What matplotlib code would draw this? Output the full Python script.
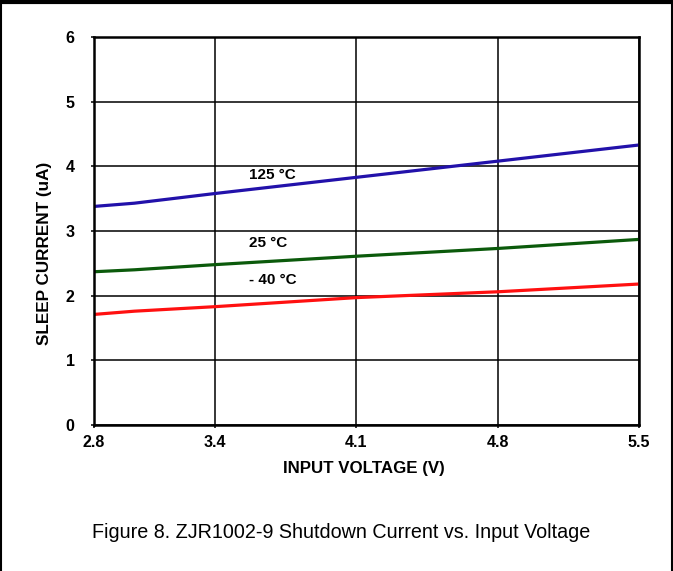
import matplotlib
matplotlib.use("Agg")
import matplotlib.pyplot as plt
from matplotlib.lines import Line2D

plt.rcParams['font.family'] = ['Liberation Sans Narrow', 'Liberation Sans', 'DejaVu Sans']

voltage = [2.8, 3.0, 3.4, 4.1, 4.8, 5.5]
i_125 = [3.38, 3.43, 3.58, 3.83, 4.08, 4.33]
i_25 = [2.37, 2.40, 2.48, 2.61, 2.73, 2.87]
i_m40 = [1.71, 1.76, 1.83, 1.97, 2.06, 2.18]
x_ticks = [2.8, 3.4, 4.1, 4.8, 5.5]
y_ticks = [0, 1, 2, 3, 4, 5, 6]
labels = ["125 °C", "25 °C", "- 40 °C"]
label_pos = [(3.57, 3.86), (3.57, 2.82), (3.57, 2.25)]

fig = plt.figure(figsize=(6.73, 5.71), dpi=100)
ax = fig.add_axes([94/673, 1-425/571, (639-94)/673, (425-37)/571])

ax.plot(voltage, i_125, color="#2211aa", lw=2.3, solid_capstyle='butt')
ax.plot(voltage, i_25, color="#0b5a0b", lw=2.3, solid_capstyle='butt')
ax.plot(voltage, i_m40, color="#ff1010", lw=2.3, solid_capstyle='butt')

for t, (x, y) in zip(labels, label_pos):
    ax.text(x, y, t, ha='left', va='center', fontsize=11, fontweight='bold')

ax.set_xlim(2.8, 5.5)
ax.set_ylim(0, 6)
ax.set_xticks(x_ticks)
ax.set_xticklabels([f"{v:.1f}" for v in x_ticks])
ax.set_yticks(y_ticks)
ax.grid(True, color='black', lw=1.1)
ax.set_axisbelow(True)
for s in ax.spines.values():
    s.set_linewidth(1.8)
ax.tick_params(axis='both', length=2, width=1.1, labelsize=11.5)
ax.tick_params(axis='y', pad=12)
ax.tick_params(axis='x', pad=5)
for lab in ax.get_xticklabels() + ax.get_yticklabels():
    lab.set_fontweight('bold')
ax.set_xlabel("INPUT VOLTAGE (V)", fontsize=12.2, fontweight='bold')
ax.xaxis.set_label_coords((364-94)/545, -(468-425)/388)
ax.xaxis.label.set_va('center')
ax.set_ylabel("SLEEP CURRENT (uA)", fontsize=12.3, fontweight='bold')
ax.yaxis.set_label_coords(-(94-45)/545, (425-253)/388)
ax.yaxis.label.set_va('center')

fig.text(341/673, 1-532/571, "Figure 8. ZJR1002-9 Shutdown Current vs. Input Voltage",
         ha='center', va='center', fontsize=14.2)

# figure border
fig.add_artist(Line2D([0.001, 0.001], [0, 1], transform=fig.transFigure, color='black', lw=1.5))
fig.add_artist(Line2D([0.999, 0.999], [0, 1], transform=fig.transFigure, color='black', lw=1.5))
fig.add_artist(Line2D([0, 1], [0.996, 0.996], transform=fig.transFigure, color='black', lw=3))

fig.savefig("out.png", dpi=100)
